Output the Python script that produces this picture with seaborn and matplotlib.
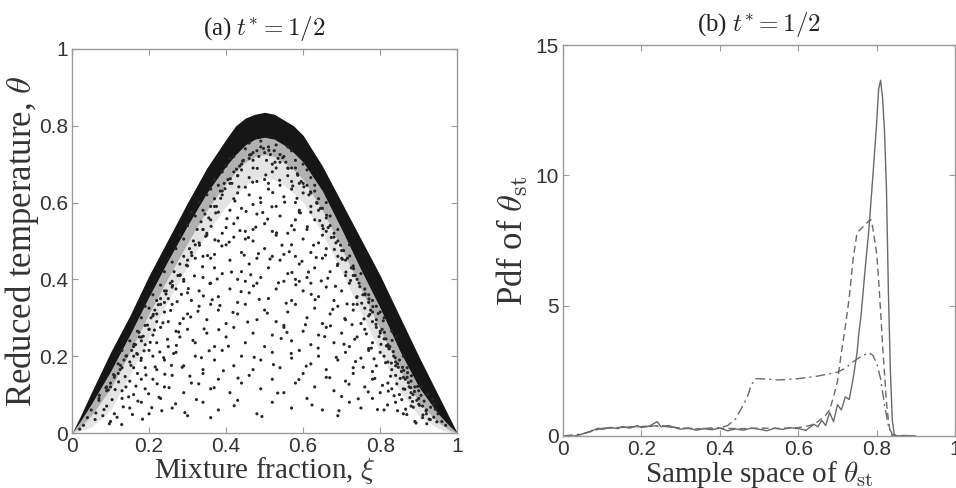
import numpy as np
import pandas as pd
import matplotlib
matplotlib.use("Agg")
import matplotlib.pyplot as plt
import seaborn as sns

# ---- panel (a): scatter of reduced temperature vs mixture fraction ----
# dense band along the burning branch: outer edge, solid core, fuzzy halo
band_xi = [0, 0.02, 0.05, 0.1, 0.15, 0.2, 0.25, 0.3, 0.35, 0.4, 0.425, 0.45, 0.475, 0.5,
           0.525, 0.55, 0.575, 0.6, 0.65, 0.7, 0.75, 0.8, 0.85, 0.9, 0.95, 0.98, 1.0]
band_outer = [0, 0.04, 0.105, 0.21, 0.305, 0.41, 0.505, 0.60, 0.69, 0.765, 0.80, 0.82, 0.83, 0.835,
              0.83, 0.815, 0.80, 0.775, 0.695, 0.60, 0.505, 0.41, 0.305, 0.20, 0.10, 0.04, 0]
band_inner = [0, 0.028, 0.075, 0.16, 0.255, 0.355, 0.45, 0.54, 0.625, 0.695, 0.725, 0.75, 0.765, 0.77,
              0.765, 0.75, 0.73, 0.705, 0.63, 0.53, 0.425, 0.325, 0.215, 0.12, 0.05, 0.018, 0]
band_halo1 = [0, 0.014, 0.045, 0.115, 0.21, 0.31, 0.405, 0.495, 0.58, 0.65, 0.68, 0.705, 0.72, 0.725,
              0.72, 0.705, 0.685, 0.66, 0.58, 0.48, 0.375, 0.27, 0.165, 0.08, 0.028, 0.007, 0]
band_halo2 = [0, 0.005, 0.015, 0.06, 0.15, 0.25, 0.345, 0.435, 0.52, 0.59, 0.62, 0.645, 0.66, 0.665,
              0.66, 0.645, 0.625, 0.60, 0.52, 0.42, 0.315, 0.21, 0.11, 0.045, 0.012, 0.002, 0]

# scattered interior samples
interior_pts = [
    (0.42,0.72),(0.45,0.74),(0.47,0.71),(0.5,0.73),(0.53,0.75),(0.55,0.72),(0.58,0.71),(0.44,0.70),
    (0.49,0.76),(0.52,0.70),(0.56,0.745),(0.41,0.715),(0.48,0.735),(0.6,0.70),(0.46,0.755),(0.51,0.745),
    (0.54,0.705),(0.57,0.735),
    (0.37,0.66),(0.39,0.68),(0.41,0.65),(0.43,0.67),(0.45,0.64),(0.47,0.69),(0.5,0.66),(0.52,0.68),
    (0.54,0.645),(0.56,0.67),(0.58,0.69),(0.6,0.65),(0.62,0.665),(0.63,0.645),(0.4,0.695),(0.48,0.655),
    (0.53,0.69),(0.44,0.685),(0.57,0.655),(0.38,0.645),(0.61,0.685),(0.46,0.665),(0.51,0.65),
    (0.33,0.6),(0.35,0.62),(0.37,0.59),(0.39,0.63),(0.42,0.61),(0.44,0.585),(0.46,0.62),(0.49,0.6),
    (0.51,0.635),(0.53,0.59),(0.55,0.615),(0.58,0.6),(0.6,0.625),(0.62,0.59),(0.64,0.61),(0.66,0.6),
    (0.36,0.635),(0.41,0.58),(0.47,0.595),(0.57,0.635),(0.63,0.63),(0.34,0.58),(0.65,0.585),(0.43,0.625),
    (0.59,0.58),
    (0.30,0.54),(0.32,0.565),(0.34,0.53),(0.36,0.555),(0.38,0.575),(0.4,0.535),(0.43,0.56),(0.45,0.525),
    (0.48,0.57),(0.5,0.545),(0.52,0.525),(0.54,0.565),(0.57,0.54),(0.59,0.575),(0.61,0.53),(0.63,0.555),
    (0.65,0.54),(0.67,0.565),(0.69,0.53),(0.31,0.575),(0.35,0.52),(0.42,0.545),(0.47,0.53),(0.56,0.52),
    (0.62,0.575),(0.66,0.525),(0.39,0.52),(0.58,0.555),
    (0.27,0.48),(0.29,0.505),(0.31,0.47),(0.33,0.495),(0.35,0.515),(0.37,0.465),(0.4,0.49),(0.42,0.51),
    (0.44,0.47),(0.47,0.5),(0.5,0.48),(0.53,0.515),(0.55,0.465),(0.57,0.49),(0.6,0.505),(0.62,0.47),
    (0.64,0.495),(0.66,0.48),(0.68,0.51),(0.7,0.475),(0.72,0.49),(0.28,0.515),(0.34,0.46),(0.45,0.505),
    (0.58,0.46),(0.65,0.515),(0.69,0.46),(0.38,0.5),(0.52,0.46),
    (0.24,0.42),(0.26,0.445),(0.28,0.41),(0.3,0.435),(0.32,0.455),(0.34,0.405),(0.37,0.43),(0.39,0.415),
    (0.41,0.45),(0.44,0.42),(0.46,0.44),(0.49,0.405),(0.51,0.43),(0.54,0.45),(0.56,0.415),(0.59,0.44),
    (0.61,0.405),(0.63,0.43),(0.65,0.455),(0.67,0.42),(0.69,0.44),(0.71,0.41),(0.73,0.435),(0.75,0.415),
    (0.25,0.455),(0.29,0.4),(0.36,0.455),(0.48,0.455),(0.58,0.4),(0.7,0.455),(0.74,0.4),(0.43,0.4),
    (0.21,0.36),(0.23,0.385),(0.25,0.35),(0.27,0.375),(0.29,0.395),(0.31,0.345),(0.33,0.37),(0.36,0.39),
    (0.38,0.355),(0.41,0.375),(0.43,0.34),(0.46,0.365),(0.48,0.39),(0.51,0.35),(0.53,0.375),(0.55,0.395),
    (0.57,0.345),(0.6,0.37),(0.62,0.39),(0.64,0.355),(0.66,0.38),(0.68,0.345),(0.7,0.37),(0.72,0.39),
    (0.74,0.355),(0.76,0.375),(0.78,0.345),(0.22,0.345),(0.26,0.395),(0.3,0.365),(0.45,0.395),(0.59,0.395),
    (0.73,0.335),(0.77,0.36),(0.24,0.37),
    (0.18,0.3),(0.2,0.325),(0.22,0.29),(0.24,0.315),(0.26,0.335),(0.28,0.285),(0.3,0.31),(0.33,0.33),
    (0.35,0.295),(0.38,0.32),(0.4,0.285),(0.43,0.31),(0.45,0.335),(0.48,0.295),(0.5,0.32),(0.53,0.29),
    (0.56,0.315),(0.58,0.335),(0.61,0.3),(0.63,0.325),(0.65,0.285),(0.67,0.31),(0.69,0.33),(0.71,0.295),
    (0.73,0.32),(0.75,0.285),(0.77,0.305),(0.79,0.33),(0.81,0.3),(0.19,0.33),(0.21,0.305),(0.25,0.29),
    (0.36,0.335),(0.55,0.28),(0.74,0.335),(0.78,0.29),(0.8,0.315),(0.23,0.335),(0.76,0.325),
    (0.15,0.24),(0.17,0.265),(0.19,0.23),(0.21,0.255),(0.23,0.275),(0.25,0.225),(0.28,0.25),(0.3,0.27),
    (0.32,0.235),(0.35,0.26),(0.37,0.225),(0.4,0.25),(0.42,0.275),(0.45,0.235),(0.47,0.26),(0.5,0.225),
    (0.52,0.255),(0.55,0.275),(0.57,0.24),(0.6,0.265),(0.62,0.23),(0.64,0.255),(0.66,0.275),(0.68,0.235),
    (0.7,0.26),(0.72,0.225),(0.74,0.25),(0.76,0.27),(0.78,0.235),(0.8,0.26),(0.82,0.23),(0.84,0.25),
    (0.16,0.225),(0.18,0.25),(0.2,0.27),(0.22,0.235),(0.79,0.275),(0.81,0.245),(0.83,0.265),(0.77,0.22),
    (0.27,0.265),
    (0.12,0.18),(0.14,0.2),(0.16,0.17),(0.18,0.195),(0.2,0.215),(0.22,0.165),(0.24,0.19),(0.27,0.21),
    (0.29,0.175),(0.32,0.2),(0.34,0.165),(0.37,0.19),(0.39,0.215),(0.42,0.175),(0.44,0.2),(0.47,0.165),
    (0.49,0.19),(0.52,0.21),(0.54,0.17),(0.57,0.195),(0.59,0.215),(0.62,0.18),(0.64,0.2),(0.66,0.165),
    (0.69,0.19),(0.71,0.21),(0.73,0.17),(0.75,0.195),(0.77,0.215),(0.79,0.175),(0.81,0.2),(0.83,0.165),
    (0.85,0.19),(0.87,0.17),(0.13,0.215),(0.15,0.185),(0.17,0.205),(0.19,0.17),(0.21,0.2),(0.8,0.21),
    (0.82,0.185),(0.84,0.175),(0.86,0.2),(0.78,0.16),
    (0.09,0.12),(0.11,0.145),(0.13,0.11),(0.15,0.135),(0.17,0.155),(0.19,0.115),(0.21,0.14),(0.24,0.12),
    (0.26,0.15),(0.29,0.105),(0.31,0.13),(0.34,0.155),(0.36,0.115),(0.38,0.14),(0.41,0.105),(0.44,0.13),
    (0.46,0.15),(0.49,0.115),(0.52,0.14),(0.55,0.105),(0.58,0.13),(0.6,0.155),(0.63,0.12),(0.66,0.145),
    (0.68,0.11),(0.71,0.135),(0.73,0.155),(0.76,0.12),(0.78,0.14),(0.8,0.105),(0.82,0.13),(0.84,0.15),
    (0.86,0.115),(0.88,0.135),(0.9,0.11),(0.1,0.13),(0.12,0.155),(0.14,0.12),(0.16,0.1),(0.18,0.14),
    (0.85,0.1),(0.87,0.145),(0.89,0.12),(0.83,0.115),
    (0.05,0.06),(0.07,0.085),(0.09,0.07),(0.11,0.05),(0.13,0.09),(0.15,0.065),(0.18,0.08),(0.2,0.05),
    (0.23,0.09),(0.26,0.065),(0.3,0.045),(0.34,0.08),(0.38,0.06),(0.43,0.085),(0.48,0.05),(0.52,0.08),
    (0.57,0.065),(0.61,0.09),(0.65,0.06),(0.69,0.045),(0.72,0.08),(0.75,0.065),(0.78,0.09),(0.81,0.06),
    (0.84,0.08),(0.86,0.05),(0.88,0.07),(0.9,0.09),(0.92,0.06),(0.94,0.075),(0.89,0.03),(0.91,0.04),
    (0.93,0.035),(0.06,0.035),(0.08,0.045),(0.1,0.03),(0.36,0.04),(0.7,0.095),
    (0.03,0.02),(0.04,0.04),(0.96,0.03),(0.95,0.05),(0.97,0.02),(0.02,0.01),
]
interior_pts_extra = [
    (0.062,0.052),(0.071,0.098),(0.083,0.061),(0.094,0.112),(0.097,0.024),(0.088,0.118),
    (0.104,0.087),(0.108,0.152),(0.117,0.041),(0.121,0.133),(0.126,0.176),(0.133,0.068),(0.138,0.147),
    (0.142,0.201),(0.147,0.094),(0.112,0.113),(0.129,0.022),
    (0.153,0.176),(0.157,0.048),(0.161,0.231),(0.166,0.122),(0.171,0.083),(0.174,0.262),(0.179,0.189),
    (0.183,0.036),(0.187,0.214),(0.192,0.151),(0.196,0.281),(0.199,0.102),(0.168,0.207),(0.185,0.252),
    (0.203,0.236),(0.207,0.066),(0.211,0.309),(0.216,0.172),(0.221,0.128),(0.224,0.334),(0.228,0.211),
    (0.233,0.058),(0.236,0.287),(0.241,0.153),(0.244,0.362),(0.248,0.244),(0.214,0.268),(0.238,0.196),
    (0.226,0.093),
    (0.252,0.118),(0.256,0.319),(0.261,0.384),(0.264,0.207),(0.269,0.076),(0.273,0.342),(0.277,0.263),
    (0.281,0.412),(0.286,0.171),(0.289,0.298),(0.293,0.053),(0.297,0.437),(0.258,0.176),(0.271,0.228),
    (0.284,0.361),
    (0.302,0.376),(0.306,0.148),(0.311,0.462),(0.314,0.241),(0.318,0.409),(0.323,0.087),(0.327,0.317),
    (0.331,0.489),(0.336,0.196),(0.339,0.433),(0.343,0.271),(0.347,0.512),(0.308,0.302),(0.329,0.128),
    (0.341,0.357),
    (0.352,0.462),(0.356,0.214),(0.361,0.538),(0.364,0.347),(0.369,0.118),(0.373,0.573),(0.377,0.401),
    (0.381,0.269),(0.386,0.611),(0.389,0.487),(0.393,0.162),(0.397,0.636),(0.358,0.389),(0.371,0.503),
    (0.384,0.332),
    (0.402,0.558),(0.406,0.226),(0.411,0.662),(0.414,0.419),(0.418,0.314),(0.423,0.604),(0.427,0.687),
    (0.431,0.143),(0.436,0.527),(0.439,0.368),(0.443,0.708),(0.447,0.463),(0.408,0.497),(0.421,0.071),
    (0.433,0.641),
    (0.452,0.577),(0.456,0.289),(0.461,0.724),(0.464,0.412),(0.469,0.653),(0.473,0.197),(0.477,0.536),
    (0.481,0.689),(0.486,0.348),(0.489,0.612),(0.493,0.043),(0.497,0.741),(0.458,0.509),(0.471,0.383),
    (0.484,0.467),(0.495,0.574),
    (0.503,0.672),(0.507,0.312),(0.511,0.736),(0.514,0.453),(0.519,0.589),(0.523,0.178),(0.527,0.705),
    (0.531,0.521),(0.536,0.391),(0.539,0.658),(0.543,0.246),(0.547,0.717),(0.508,0.557),(0.521,0.626),
    (0.534,0.104),(0.545,0.489),
    (0.552,0.601),(0.556,0.338),(0.561,0.689),(0.564,0.472),(0.569,0.207),(0.573,0.643),(0.577,0.529),
    (0.581,0.386),(0.586,0.671),(0.589,0.139),(0.593,0.573),(0.597,0.447),(0.558,0.262),(0.571,0.418),
    (0.584,0.611),
    (0.602,0.641),(0.606,0.282),(0.611,0.537),(0.614,0.419),(0.619,0.628),(0.623,0.073),(0.627,0.489),
    (0.631,0.347),(0.636,0.598),(0.639,0.221),(0.643,0.553),(0.647,0.396),(0.608,0.174),(0.621,0.361),
    (0.634,0.457),
    (0.652,0.532),(0.656,0.251),(0.661,0.567),(0.664,0.403),(0.669,0.144),(0.673,0.509),(0.677,0.322),
    (0.681,0.478),(0.686,0.197),(0.689,0.436),(0.693,0.058),(0.697,0.489),(0.658,0.463),(0.671,0.279),
    (0.684,0.382),
    (0.702,0.452),(0.706,0.231),(0.711,0.419),(0.714,0.336),(0.719,0.127),(0.723,0.397),(0.727,0.282),
    (0.731,0.428),(0.736,0.186),(0.739,0.353),(0.743,0.089),(0.747,0.381),(0.708,0.298),(0.721,0.461),
    (0.734,0.244),
    (0.752,0.338),(0.756,0.171),(0.761,0.362),(0.764,0.258),(0.769,0.107),(0.773,0.309),(0.777,0.221),
    (0.781,0.329),(0.786,0.142),(0.789,0.283),(0.793,0.061),(0.797,0.251),(0.758,0.297),(0.771,0.349),
    (0.784,0.193),(0.795,0.311),
    (0.802,0.231),(0.806,0.124),(0.811,0.262),(0.814,0.183),(0.819,0.073),(0.823,0.219),(0.827,0.148),
    (0.831,0.241),(0.836,0.097),(0.839,0.196),(0.843,0.128),(0.847,0.171),(0.808,0.292),(0.821,0.109),
    (0.834,0.212),(0.845,0.058),(0.816,0.227),(0.829,0.182),
    (0.852,0.142),(0.856,0.087),(0.861,0.163),(0.864,0.114),(0.869,0.048),(0.873,0.131),(0.877,0.092),
    (0.881,0.149),(0.886,0.067),(0.889,0.108),(0.893,0.026),(0.897,0.121),(0.858,0.171),(0.871,0.157),
    (0.884,0.082),(0.866,0.062),(0.879,0.118),
    (0.902,0.072),(0.906,0.098),(0.911,0.047),(0.914,0.083),(0.919,0.058),(0.923,0.101),(0.927,0.036),
    (0.931,0.067),(0.936,0.088),(0.939,0.041),(0.943,0.062),(0.947,0.029),(0.908,0.121),(0.921,0.024),
]
# samples crowding just under the dense band
edge_pts = [
    (0.07,0.09),(0.09,0.11),(0.11,0.15),(0.125,0.165),(0.135,0.19),(0.155,0.215),(0.165,0.23),
    (0.175,0.25),(0.19,0.28),(0.205,0.3),(0.215,0.32),(0.23,0.35),(0.245,0.37),(0.255,0.39),
    (0.265,0.42),(0.28,0.44),(0.29,0.46),(0.305,0.48),(0.315,0.5),(0.325,0.53),(0.335,0.55),
    (0.345,0.57),(0.36,0.59),(0.37,0.61),(0.385,0.63),(0.395,0.65),(0.405,0.66),(0.42,0.68),
    (0.435,0.695),(0.445,0.71),(0.465,0.725),
    (0.1,0.12),(0.13,0.17),(0.16,0.2),(0.18,0.24),(0.2,0.27),(0.22,0.31),(0.24,0.34),(0.26,0.38),
    (0.275,0.41),(0.3,0.45),(0.32,0.49),(0.34,0.53),(0.355,0.56),(0.375,0.59),(0.39,0.62),
    (0.415,0.65),(0.43,0.67),
    (0.535,0.715),(0.555,0.705),(0.57,0.69),(0.585,0.675),(0.595,0.655),(0.61,0.645),(0.62,0.625),
    (0.635,0.6),(0.645,0.585),(0.66,0.56),(0.67,0.54),(0.68,0.52),(0.69,0.5),(0.705,0.475),
    (0.715,0.455),(0.725,0.43),(0.735,0.41),(0.745,0.39),(0.76,0.36),(0.77,0.34),(0.78,0.315),
    (0.79,0.295),(0.805,0.27),(0.815,0.245),(0.825,0.225),(0.835,0.2),(0.845,0.18),(0.855,0.16),
    (0.865,0.14),(0.875,0.12),(0.885,0.1),(0.895,0.085),(0.91,0.07),(0.92,0.05),
    (0.56,0.69),(0.59,0.65),(0.615,0.62),(0.64,0.58),(0.665,0.535),(0.685,0.495),(0.71,0.45),
    (0.73,0.41),(0.755,0.36),(0.775,0.32),(0.8,0.265),(0.82,0.225),(0.84,0.185),(0.86,0.145),
    (0.88,0.105),(0.9,0.075),
    (0.47,0.73),(0.49,0.745),(0.505,0.71),(0.525,0.735),(0.515,0.725),(0.485,0.72),(0.46,0.715),
    (0.54,0.725),
]
scatter_df = pd.DataFrame(interior_pts + interior_pts_extra + edge_pts, columns=["xi", "theta"])

# ---- panel (b): pdfs of theta_st ----
solid_x = [0.0, 0.03, 0.05, 0.07, 0.09, 0.1, 0.12, 0.14, 0.15, 0.17, 0.19, 0.2, 0.22, 0.24, 0.25,
           0.27, 0.29, 0.3, 0.32, 0.34, 0.36, 0.38, 0.4, 0.42, 0.44, 0.46, 0.48, 0.5, 0.52, 0.54,
           0.56, 0.58, 0.6, 0.62, 0.64, 0.65, 0.66, 0.67, 0.68, 0.69, 0.7, 0.71, 0.72, 0.73, 0.74,
           0.75, 0.755, 0.76, 0.77, 0.78, 0.79, 0.8, 0.805, 0.81, 0.815, 0.82, 0.825, 0.83, 0.835,
           0.84, 0.845, 0.85, 0.87, 0.9]
solid_y = [0.0, 0.0, 0.08, 0.18, 0.3, 0.25, 0.33, 0.28, 0.36, 0.3, 0.4, 0.32, 0.38, 0.55, 0.35,
           0.4, 0.3, 0.26, 0.3, 0.22, 0.28, 0.24, 0.3, 0.2, 0.27, 0.22, 0.3, 0.26, 0.2, 0.3,
           0.25, 0.32, 0.28, 0.22, 0.45, 0.35, 0.6, 0.4, 0.9, 0.55, 1.2, 1.0, 1.5, 1.4, 2.2,
           3.2, 4.0, 4.6, 6.3, 7.9, 9.9, 12.0, 13.3, 13.65, 13.0, 11.7, 9.5, 5.5, 2.5,
           0.6, 0.05, 0.0, 0.02, 0.0]

dash_x = [0.0, 0.03, 0.05, 0.08, 0.1, 0.15, 0.2, 0.25, 0.3, 0.35, 0.4, 0.45, 0.5, 0.55, 0.6,
          0.63, 0.65, 0.67, 0.68, 0.69, 0.7, 0.71, 0.72, 0.73, 0.74, 0.75, 0.76, 0.77, 0.78,
          0.785, 0.79, 0.8, 0.805, 0.81, 0.815, 0.82, 0.825, 0.83, 0.835, 0.84, 0.86]
dash_y = [0.0, 0.0, 0.08, 0.22, 0.3, 0.33, 0.36, 0.4, 0.3, 0.27, 0.3, 0.28, 0.3, 0.29, 0.32,
          0.4, 0.55, 0.8, 1.0, 1.5, 2.1, 3.2, 4.2, 5.3, 6.8, 7.8, 7.95, 8.1, 8.25,
          8.3, 8.0, 7.0, 6.0, 4.8, 3.5, 2.4, 1.3, 0.6, 0.1, 0.0, 0.0]

dashdot_x = [0.0, 0.05, 0.1, 0.15, 0.2, 0.25, 0.3, 0.35, 0.4, 0.42, 0.44, 0.46, 0.47, 0.48,
             0.49, 0.5, 0.55, 0.6, 0.65, 0.7, 0.72, 0.74, 0.76, 0.78, 0.79, 0.8, 0.81, 0.82,
             0.83, 0.84, 0.86]
dashdot_y = [0.0, 0.08, 0.3, 0.33, 0.36, 0.38, 0.3, 0.28, 0.32, 0.4, 0.65, 1.2, 1.5, 1.95,
             2.2, 2.2, 2.15, 2.2, 2.3, 2.45, 2.6, 2.85, 3.05, 3.2, 3.1, 2.8, 2.2, 1.2,
             0.4, 0.05, 0.0]

sns.set_theme(style="ticks")
plt.rcParams["font.family"] = ["Liberation Serif", "DejaVu Serif"]
plt.rcParams["mathtext.fontset"] = "cm"

fig = plt.figure(figsize=(9.56, 4.88), dpi=100)
ax1 = fig.add_axes([0.0753, 0.1127, 0.403, 0.787])
ax2 = fig.add_axes([0.589, 0.1066, 0.41, 0.801])

# panel (a)
ax1.fill_between(band_xi, band_halo2, band_halo1, color="#222222", alpha=0.12, lw=0)
ax1.fill_between(band_xi, band_halo1, band_inner, color="#222222", alpha=0.35, lw=0)
ax1.fill_between(band_xi, band_inner, band_outer, color="#161616", alpha=1.0, lw=0)
sns.scatterplot(data=scatter_df, x="xi", y="theta", ax=ax1, s=5, color="#262626",
                edgecolor="none", legend=False)
ax1.set_xlim(0, 1)
ax1.set_ylim(0, 1)
ax1.set_xticks([0, 0.2, 0.4, 0.6, 0.8, 1])
ax1.set_xticklabels(["0", "0.2", "0.4", "0.6", "0.8", "1"])
ax1.set_yticks([0, 0.2, 0.4, 0.6, 0.8, 1])
ax1.set_yticklabels(["0", "0.2", "0.4", "0.6", "0.8", "1"])
ax1.set_xlabel(r"Mixture fraction, $\xi$", fontsize=21, color="#333333")
ax1.set_ylabel(r"Reduced temperature, $\theta$", fontsize=25, color="#333333")
ax1.set_title(r"(a) $t^{*}=1/2$", fontsize=18, pad=10, color="#222222")
ax1.xaxis.set_label_coords(0.5, -0.058)
ax1.yaxis.set_label_coords(-0.08, 0.5)

# panel (b)
line_col = "#6a6a6a"
sns.lineplot(x=solid_x, y=solid_y, ax=ax2, color=line_col, lw=1.0)
sns.lineplot(x=dash_x, y=dash_y, ax=ax2, color=line_col, lw=1.0, linestyle=(0, (5, 3)))
sns.lineplot(x=dashdot_x, y=dashdot_y, ax=ax2, color=line_col, lw=1.0,
             linestyle=(0, (7, 3, 1.5, 3)))
ax2.set_xlim(0, 1)
ax2.set_ylim(0, 15)
ax2.set_xticks([0, 0.2, 0.4, 0.6, 0.8, 1])
ax2.set_xticklabels(["0", "0.2", "0.4", "0.6", "0.8", "1"])
ax2.set_yticks([0, 5, 10, 15])
ax2.set_yticklabels(["0", "5", "10", "15"])
ax2.set_xlabel(r"Sample space of $\theta_{\mathrm{st}}$", fontsize=21, color="#333333")
ax2.set_ylabel(r"Pdf of $\theta_{\mathrm{st}}$", fontsize=25, color="#333333")
ax2.set_title(r"(b) $t^{*}=1/2$", fontsize=18, pad=10, color="#222222")
ax2.xaxis.set_label_coords(0.5, -0.058)
ax2.yaxis.set_label_coords(-0.085, 0.5)

for ax in (ax1, ax2):
    for sp in ax.spines.values():
        sp.set_visible(True)
        sp.set_color("#9a9a9a")
        sp.set_linewidth(1.0)
    ax.tick_params(direction="in", length=4, width=0.8, color="#9a9a9a",
                   top=True, right=True, labelsize=15, labelcolor="#333333", pad=3)
    for lab in ax.get_xticklabels() + ax.get_yticklabels():
        lab.set_family(["Liberation Sans", "DejaVu Sans"])

fig.savefig("out.png", dpi=100)
